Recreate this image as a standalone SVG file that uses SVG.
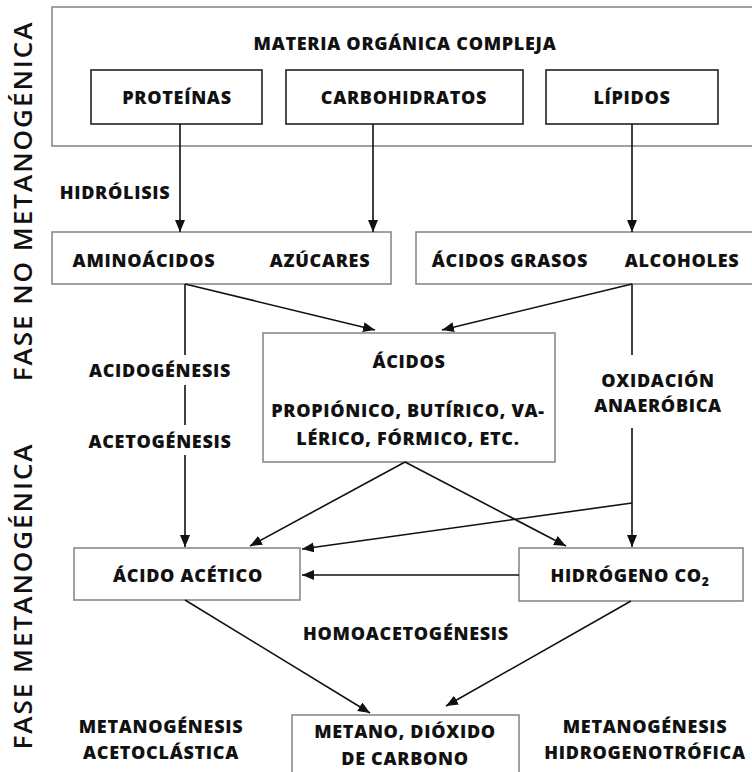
<svg xmlns="http://www.w3.org/2000/svg" width="752" height="772" viewBox="0 0 752 772">
<defs>
<style>
.t{font-family:"Open Sans","Liberation Sans",sans-serif;font-weight:800;font-size:18px;letter-spacing:0.7px;fill:#111;text-anchor:middle}
.v{font-family:"Open Sans","Liberation Sans",sans-serif;font-weight:600;font-size:26px;fill:#111;text-anchor:middle;letter-spacing:2px}
.gb{fill:#fff;stroke:#8a8a8a;stroke-width:1.6}
.bb{fill:#fff;stroke:#222;stroke-width:1.6}
.ln{fill:none;stroke:#111;stroke-width:1.6}
</style>
<marker id="ah" viewBox="0 0 12 10" refX="12" refY="5" markerWidth="12" markerHeight="10" markerUnits="userSpaceOnUse" orient="auto">
<path d="M0,0 L12,5 L0,10 z" fill="#111"/>
</marker>
</defs>
<rect width="752" height="772" fill="#fff"/>
<text class="v" transform="translate(32,201) rotate(-90)">FASE NO METANOGÉNICA</text>
<text class="v" transform="translate(32,596) rotate(-90)">FASE METANOGÉNICA</text>
<g id="materia"><rect class="gb" x="52" y="7" width="702" height="139"/><text class="t" x="405" y="50">MATERIA ORGÁNICA COMPLEJA</text></g>
<g id="proteinas"><rect class="bb" x="91" y="70" width="171" height="54"/><text class="t" x="177" y="104">PROTEÍNAS</text></g>
<g id="carbohidratos"><rect class="bb" x="286" y="70" width="237" height="54"/><text class="t" x="404" y="104">CARBOHIDRATOS</text></g>
<g id="lipidos"><rect class="bb" x="546" y="70" width="172" height="54"/><text class="t" x="632" y="104">LÍPIDOS</text></g>
<g id="aminoacidos"><rect class="gb" x="52" y="232" width="339" height="52"/><text class="t" x="144" y="267">AMINOÁCIDOS</text><text class="t" x="320" y="267">AZÚCARES</text></g>
<g id="grasos"><rect class="gb" x="416" y="232" width="338" height="52"/><text class="t" x="510" y="267">ÁCIDOS GRASOS</text><text class="t" x="682" y="267">ALCOHOLES</text></g>
<g id="acidos"><rect class="gb" x="263" y="333" width="292" height="129"/><text class="t" x="409" y="368">ÁCIDOS</text><text class="t" x="408" y="417">PROPIÓNICO, BUTÍRICO, VA-</text><text class="t" x="408" y="445">LÉRICO, FÓRMICO, ETC.</text></g>
<g id="acetico"><rect class="gb" x="74" y="548" width="226" height="52"/><text class="t" x="188" y="582">ÁCIDO ACÉTICO</text></g>
<g id="hidrogeno"><rect class="gb" x="519" y="548" width="224" height="53"/><text class="t" x="630" y="582">HIDRÓGENO CO<tspan font-size="12" dy="4">2</tspan></text></g>
<g id="metano"><rect class="gb" x="292" y="715" width="227" height="70"/><text class="t" x="405" y="738">METANO, DIÓXIDO</text><text class="t" x="405" y="765">DE CARBONO</text></g>
<g id="labels">
<text class="t" x="115" y="199">HIDRÓLISIS</text>
<text class="t" x="160" y="377">ACIDOGÉNESIS</text>
<text class="t" x="160" y="448">ACETOGÉNESIS</text>
<text class="t" x="658" y="387">OXIDACIÓN</text>
<text class="t" x="658" y="412">ANAERÓBICA</text>
<text class="t" x="406" y="640">HOMOACETOGÉNESIS</text>
<text class="t" x="161" y="733">METANOGÉNESIS</text>
<text class="t" x="161" y="759">ACETOCLÁSTICA</text>
<text class="t" x="645" y="733">METANOGÉNESIS</text>
<text class="t" x="645" y="759">HIDROGENOTRÓFICA</text>
</g>
<g id="connectors">
<line class="ln" x1="180" y1="124" x2="180" y2="232" marker-end="url(#ah)"/>
<line class="ln" x1="373" y1="124" x2="373" y2="232" marker-end="url(#ah)"/>
<line class="ln" x1="632" y1="124" x2="632" y2="232" marker-end="url(#ah)"/>
<line class="ln" x1="185" y1="284" x2="375" y2="330" marker-end="url(#ah)"/>
<line class="ln" x1="632" y1="284" x2="442" y2="330" marker-end="url(#ah)"/>
<line class="ln" x1="185" y1="284" x2="185" y2="355"/>
<line class="ln" x1="185" y1="385" x2="185" y2="425"/>
<line class="ln" x1="185" y1="455" x2="185" y2="547" marker-end="url(#ah)"/>
<line class="ln" x1="632" y1="284" x2="632" y2="355"/>
<line class="ln" x1="632" y1="428" x2="632" y2="547" marker-end="url(#ah)"/>
<line class="ln" x1="632" y1="503" x2="302" y2="549" marker-end="url(#ah)"/>
<line class="ln" x1="405" y1="462" x2="250" y2="546" marker-end="url(#ah)"/>
<line class="ln" x1="405" y1="462" x2="566" y2="546" marker-end="url(#ah)"/>
<line class="ln" x1="519" y1="575" x2="302" y2="575" marker-end="url(#ah)"/>
<line class="ln" x1="185" y1="600" x2="370" y2="713" marker-end="url(#ah)"/>
<line class="ln" x1="631" y1="601" x2="446" y2="706" marker-end="url(#ah)"/>
</g>
</svg>
